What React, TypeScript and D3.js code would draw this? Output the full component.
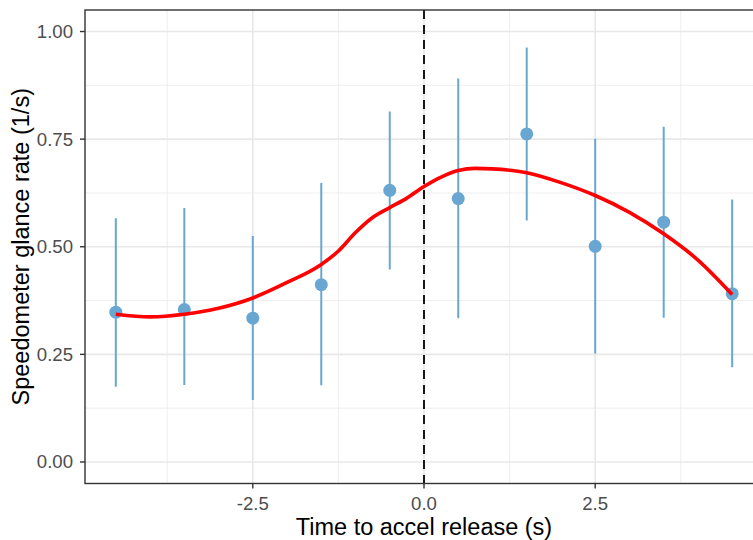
import React from "react";
import * as d3 from "d3";

const timePoints = [-4.5, -3.5, -2.5, -1.5, -0.5, 0.5, 1.5, 2.5, 3.5, 4.5];
const rateMean = [0.348, 0.354, 0.334, 0.412, 0.631, 0.612, 0.762, 0.501, 0.557, 0.391];
const rateLow = [0.175, 0.179, 0.144, 0.178, 0.447, 0.334, 0.561, 0.252, 0.335, 0.22];
const rateHigh = [0.566, 0.59, 0.525, 0.648, 0.814, 0.891, 0.963, 0.751, 0.779, 0.61];

const smoothX = [-4.5, -4.0, -3.5, -3.0, -2.5, -2.0, -1.5, -1.25, -1.0, -0.75, -0.5, -0.25, 0, 0.25, 0.5, 0.75, 1.0, 1.5, 2.0, 2.5, 3.0, 3.5, 4.0, 4.5];
const smoothY = [0.343, 0.337, 0.343, 0.357, 0.381, 0.417, 0.459, 0.49, 0.533, 0.568, 0.591, 0.613, 0.64, 0.662, 0.677, 0.682, 0.681, 0.672, 0.649, 0.619, 0.58, 0.53, 0.469, 0.389];

const xMajor = [-2.5, 0, 2.5];
const xMinor = [-3.75, -1.25, 1.25, 3.75];
const yMajor = [0, 0.25, 0.5, 0.75, 1.0];
const yMinor = [0.125, 0.375, 0.625, 0.875];

const W = 753;
const H = 540;
const panel = { left: 85, top: 10, right: 763, bottom: 483.5 };

export default function App() {
  const x = d3.scaleLinear().domain([-4.95, 4.95]).range([panel.left, panel.right]);
  const y = d3.scaleLinear().domain([-0.05, 1.05]).range([panel.bottom, panel.top]);
  const line = d3
    .line<number>()
    .x((_, i) => x(smoothX[i]))
    .y((d) => y(d))
    .curve(d3.curveMonotoneX);

  const blue = "#6aa6d2";
  const tickColor = "#333333";
  const labelColor = "#4d4d4d";
  const font = "'Liberation Sans', Arial, Helvetica, sans-serif";

  return (
    <svg
      width={W}
      height={H}
      style={{ position: "absolute", left: 0, top: 0, background: "#fff" }}
      fontFamily={font}
    >
      <rect x={0} y={0} width={W} height={H} fill="#fff" />
      <defs>
        <clipPath id="panelClip">
          <rect x={panel.left} y={panel.top} width={panel.right - panel.left} height={panel.bottom - panel.top} />
        </clipPath>
      </defs>
      <g clipPath="url(#panelClip)">
        {yMinor.map((v) => (
          <line key={"ym" + v} x1={panel.left} x2={panel.right} y1={y(v)} y2={y(v)} stroke="#ececec" strokeWidth={0.9} />
        ))}
        {xMinor.map((v) => (
          <line key={"xm" + v} y1={panel.top} y2={panel.bottom} x1={x(v)} x2={x(v)} stroke="#ececec" strokeWidth={0.9} />
        ))}
        {yMajor.map((v) => (
          <line key={"yM" + v} x1={panel.left} x2={panel.right} y1={y(v)} y2={y(v)} stroke="#e8e8e8" strokeWidth={1.6} />
        ))}
        {xMajor.map((v) => (
          <line key={"xM" + v} y1={panel.top} y2={panel.bottom} x1={x(v)} x2={x(v)} stroke="#e8e8e8" strokeWidth={1.6} />
        ))}
        {timePoints.map((t, i) => (
          <circle key={"p" + i} cx={x(t)} cy={y(rateMean[i])} r={6.5} fill={blue} />
        ))}
        {timePoints.map((t, i) => (
          <line key={"e" + i} x1={x(t)} x2={x(t)} y1={y(rateLow[i])} y2={y(rateHigh[i])} stroke={blue} strokeWidth={2} />
        ))}
        <path d={line(smoothY) || ""} fill="none" stroke="#ff0000" strokeWidth={3.6} strokeLinejoin="round" strokeLinecap="butt" />
        <line x1={x(0)} x2={x(0)} y1={panel.top} y2={panel.bottom} stroke="#000" strokeWidth={1.8} strokeDasharray="9,6" />
      </g>
      <rect
        x={panel.left}
        y={panel.top}
        width={panel.right - panel.left}
        height={panel.bottom - panel.top}
        fill="none"
        stroke={tickColor}
        strokeWidth={1.4}
      />
      {yMajor.map((v) => (
        <g key={"yt" + v}>
          <line x1={panel.left - 5} x2={panel.left} y1={y(v)} y2={y(v)} stroke={tickColor} strokeWidth={1.4} />
          <text x={panel.left - 12} y={y(v)} dy="0.35em" textAnchor="end" fontSize={18.6} fill={labelColor}>
            {v.toFixed(2)}
          </text>
        </g>
      ))}
      {xMajor.map((v) => (
        <g key={"xt" + v}>
          <line x1={x(v)} x2={x(v)} y1={panel.bottom} y2={panel.bottom + 5} stroke={tickColor} strokeWidth={1.4} />
          <text x={x(v)} y={510} textAnchor="middle" fontSize={18.6} fill={labelColor}>
            {v.toFixed(1)}
          </text>
        </g>
      ))}
      <text x={x(0)} y={535} textAnchor="middle" fontSize={23.5} fill="#000">
        Time to accel release (s)
      </text>
      <text
        transform={`translate(29, ${(panel.top + panel.bottom) / 2}) rotate(-90)`}
        textAnchor="middle"
        fontSize={23.5}
        fill="#000"
      >
        Speedometer glance rate (1/s)
      </text>
    </svg>
  );
}
